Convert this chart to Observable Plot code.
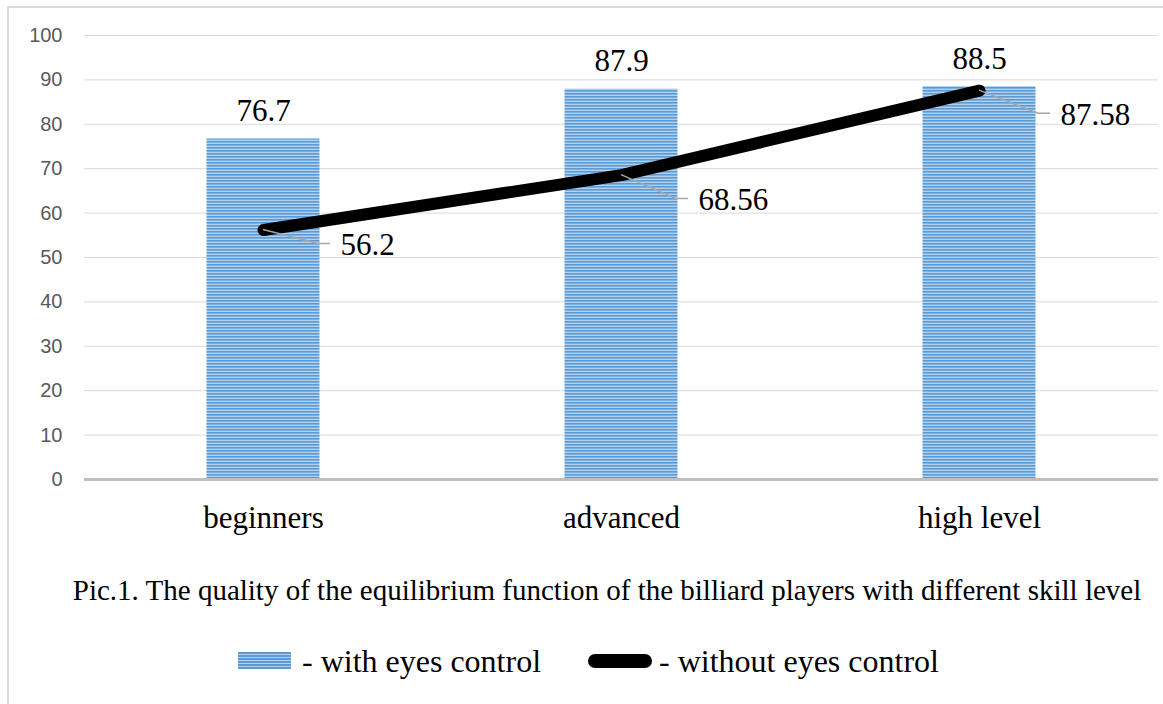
<!DOCTYPE html>
<html><head><meta charset="utf-8">
<script src="https://cdn.jsdelivr.net/npm/d3@7"></script>
<script src="https://cdn.jsdelivr.net/npm/@observablehq/plot@0.6"></script>
<style>
body{margin:0;background:#fff;}
#wrap{position:relative;width:1163px;height:704px;overflow:hidden;background:#fff;}
#frame{position:absolute;left:7px;top:6px;width:1200px;height:800px;border-left:2px solid #d9d9d9;border-top:2px solid #d9d9d9;}
#chart{position:absolute;left:0;top:0;}
.serif{font-family:"Liberation Serif","Times New Roman",serif;color:#000;}
#caption{position:absolute;left:0;width:1214px;top:571px;line-height:38px;text-align:center;font-size:29px;white-space:nowrap;}
.lg{position:absolute;}
#patch{left:238px;top:652px;width:53px;height:17px;background:repeating-linear-gradient(to bottom,#5b9bd5 0px,#5b9bd5 1.6px,#b4d0ef 1.6px,#b4d0ef 3px);}
#pill{left:588px;top:654px;width:64px;height:14px;border-radius:7px;background:#000;}
.lgt{position:absolute;top:642px;line-height:38px;font-size:32px;white-space:nowrap;}
</style></head>
<body>
<div id="wrap">
  <div id="frame"></div>
  <div id="chart"></div>
  <div id="caption" class="serif">Pic.1. The quality of the equilibrium function of the billiard players with different skill level</div>
  <div id="patch" class="lg"></div>
  <div class="lgt serif" style="left:302px">- with eyes control</div>
  <div id="pill" class="lg"></div>
  <div class="lgt serif" style="left:659px">- without eyes control</div>
</div>
<script>
const categories = ["beginners", "advanced", "high level"];
const withEyes = [76.7, 87.9, 88.5];
const withoutEyes = [56.2, 68.56, 87.58];
const withEyesLabels = ["76.7", "87.9", "88.5"];
const withoutEyesLabels = ["56.2", "68.56", "87.58"];
const yTicks = [0, 10, 20, 30, 40, 50, 60, 70, 80, 90, 100];

const bars = categories.map((c, i) => ({cat: c, value: withEyes[i], label: withEyesLabels[i]}));
const line = categories.map((c, i) => ({cat: c, value: withoutEyes[i], label: withoutEyesLabels[i]}));

// leader line geometry (pixel offsets from the line point)
const leader = [[67, 14], [67, 24], [71, 23]];

const serif = '"Liberation Serif","Times New Roman",serif';

const plot = Plot.plot({
  width: 1163,
  height: 560,
  marginLeft: 84,
  marginRight: 5,
  marginTop: 35,
  marginBottom: 81,
  style: {background: "transparent", overflow: "visible"},
  x: {domain: categories, padding: 0, axis: null},
  y: {domain: [0, 100], axis: null},
  marks: [
    Plot.gridY(yTicks.filter(d => d > 0), {stroke: "#d9d9d9", strokeOpacity: 1, strokeWidth: 1}),
    Plot.axisY(yTicks, {label: null, tickSize: 0, tickPadding: 22, fontSize: 20, fill: "#595959", fontFamily: '"Liberation Sans",Arial,sans-serif'}),
    Plot.barY(bars, {x: "cat", y: "value", fill: "url(#stripes)", insetLeft: 122.5, insetRight: 122.5}),
    Plot.ruleY([0], {stroke: "#bfbfbf", strokeWidth: 3}),
    Plot.axisX(categories, {label: null, tickSize: 0, tickPadding: 0, dy: 39, lineAnchor: "middle", fontSize: 31, fill: "#000", fontFamily: serif}),
    Plot.text(bars, {x: "cat", y: "value", text: "label", dy: -18, lineAnchor: "bottom", fontSize: 31, fill: "#000", fontFamily: serif}),
    Plot.line(line, {x: "cat", y: "value", stroke: "#000", strokeWidth: 12, strokeLinecap: "round", strokeLinejoin: "round"}),
    ...line.map((d, i) => Plot.text([d], {x: "cat", y: "value", text: "label", textAnchor: "start", lineAnchor: "middle", dx: leader[i][0] + 10, dy: leader[i][1] + 1, fontSize: 31, fill: "#000", fontFamily: serif}))
  ]
});

const svg = d3.select(plot);
svg.insert("defs", ":first-child").html(
  '<pattern id="stripes" patternUnits="userSpaceOnUse" width="8" height="3">' +
  '<rect width="8" height="3" fill="#b4d0ef"/><rect width="8" height="1.6" fill="#5b9bd5"/></pattern>');

// leader lines via the plot's own scales
const xs = plot.scale("x"), ys = plot.scale("y");
const bw = xs.bandwidth;
const g = svg.append("g").attr("fill", "none").attr("stroke", "#a6a6a6").attr("stroke-width", 1.5);
line.forEach((d, i) => {
  const px = xs.apply(d.cat) + bw / 2, py = ys.apply(d.value);
  const [ox, oy] = leader[i];
  g.append("polyline").attr("points", `${px},${py} ${px + ox - 12},${py + oy} ${px + ox},${py + oy}`);
});

document.getElementById("chart").appendChild(plot);
</script>
</body></html>
